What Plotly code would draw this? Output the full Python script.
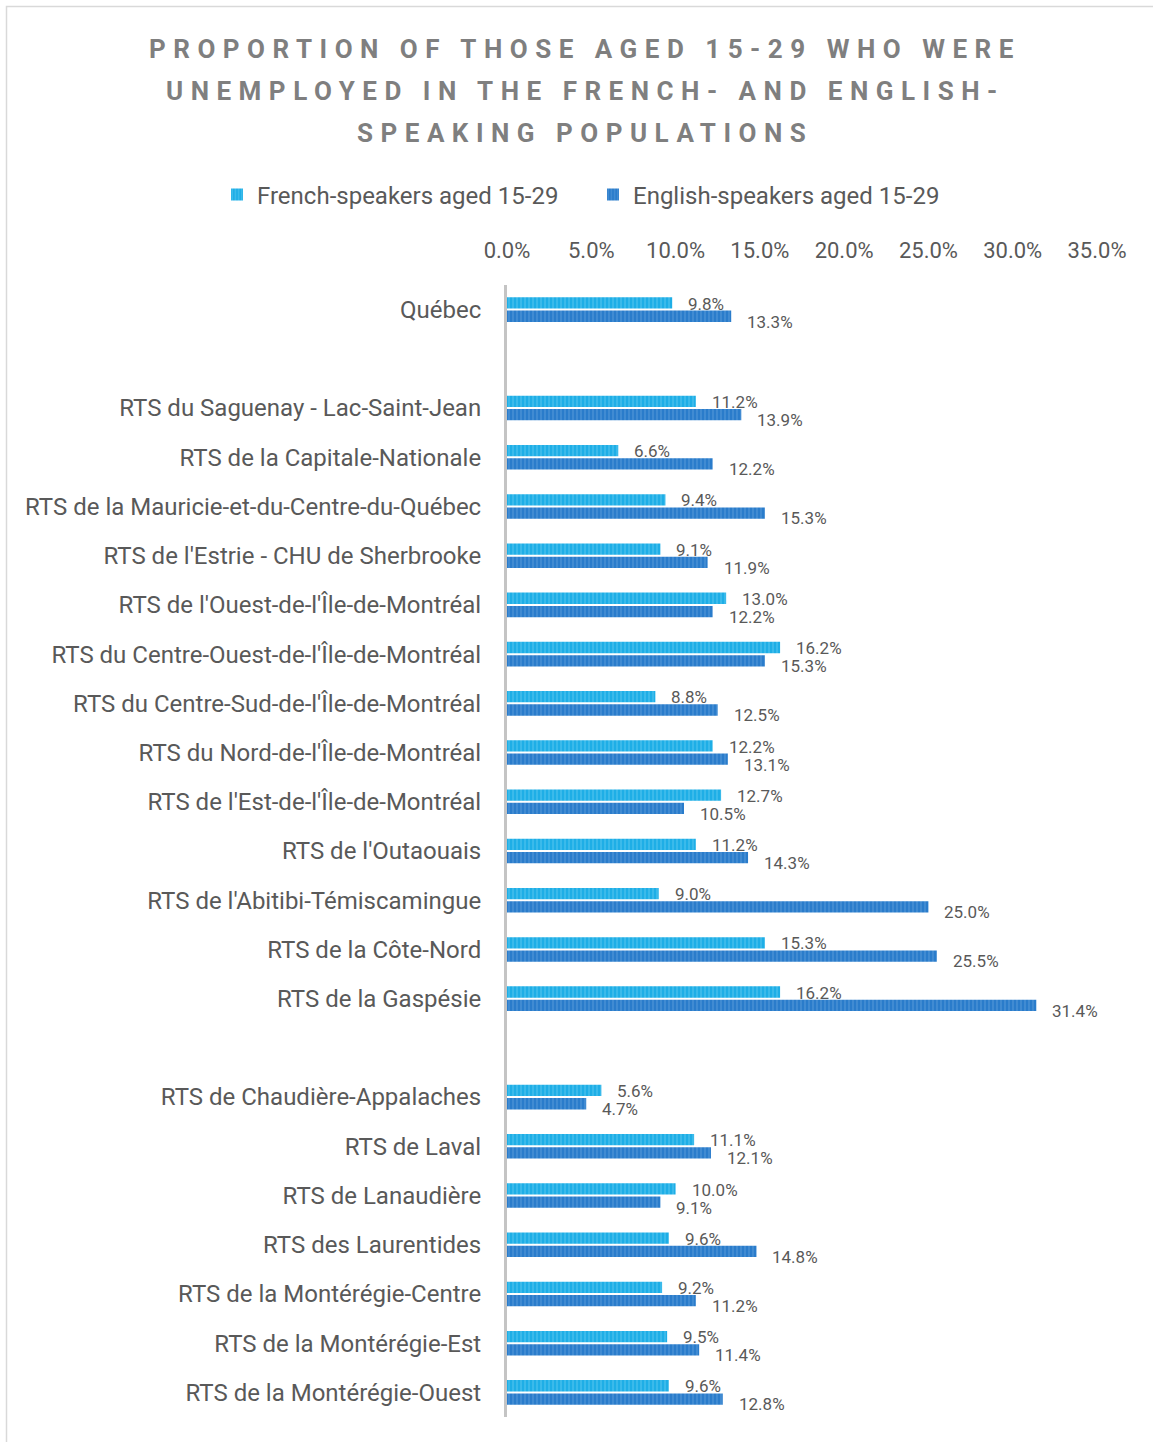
import plotly.graph_objects as go

categories = ["Québec", " ", "RTS du Saguenay - Lac-Saint-Jean", "RTS de la Capitale-Nationale",
              "RTS de la Mauricie-et-du-Centre-du-Québec", "RTS de l'Estrie - CHU de Sherbrooke",
              "RTS de l'Ouest-de-l'Île-de-Montréal", "RTS du Centre-Ouest-de-l'Île-de-Montréal",
              "RTS du Centre-Sud-de-l'Île-de-Montréal", "RTS du Nord-de-l'Île-de-Montréal",
              "RTS de l'Est-de-l'Île-de-Montréal", "RTS de l'Outaouais", "RTS de l'Abitibi-Témiscamingue",
              "RTS de la Côte-Nord", "RTS de la Gaspésie", "  ", "RTS de Chaudière-Appalaches",
              "RTS de Laval", "RTS de Lanaudière", "RTS des Laurentides", "RTS de la Montérégie-Centre",
              "RTS de la Montérégie-Est", "RTS de la Montérégie-Ouest"]
french = [9.8, None, 11.2, 6.6, 9.4, 9.1, 13.0, 16.2, 8.8, 12.2, 12.7, 11.2, 9.0, 15.3, 16.2, None,
          5.6, 11.1, 10.0, 9.6, 9.2, 9.5, 9.6]
english = [13.3, None, 13.9, 12.2, 15.3, 11.9, 12.2, 15.3, 12.5, 13.1, 10.5, 14.3, 25.0, 25.5, 31.4, None,
           4.7, 12.1, 9.1, 14.8, 11.2, 11.4, 12.8]
series_names = ["French-speakers aged 15-29", "English-speakers aged 15-29"]
x_ticks = [0, 5, 10, 15, 20, 25, 30, 35]
x_tick_labels = ["0.0%", "5.0%", "10.0%", "15.0%", "20.0%", "25.0%", "30.0%", "35.0%"]
title_lines = ["PROPORTION OF THOSE AGED 15-29 WHO WERE", "UNEMPLOYED IN THE FRENCH- AND ENGLISH-",
               "SPEAKING POPULATIONS"]

W, H = 1153, 1442
ML, MR, MT, MB = 507, 56, 285, 25
PW, PH = W - ML - MR, H - MT - MB

def px_to_paper_x(px):
    return (px - ML) / PW

def px_to_paper_y(py):
    return (H - MB - py) / PH

FONT = "Roboto"
GRAY = "#595959"

fig = go.Figure()
fig.add_trace(go.Bar(
    y=categories, x=french, orientation="h", name=series_names[0],
    marker=dict(color="#1eaee6", line=dict(width=0),
                pattern=dict(shape="|", fgcolor="#6fd0f3", size=4, solidity=0.35)),
))
fig.add_trace(go.Bar(
    y=categories, x=english, orientation="h", name=series_names[1],
    marker=dict(color="#2a7ccb", line=dict(width=0),
                pattern=dict(shape="|", fgcolor="#6aa6e0", size=4, solidity=0.35)),
))

annotations = []
for vals, ys in ((french, 6), (english, -12)):
    for c, v in zip(categories, vals):
        if v is None:
            continue
        annotations.append(dict(x=v, y=c, xref="x", yref="y", text=f"{v:.1f}%", showarrow=False,
                                xanchor="left", yanchor="middle", xshift=14, yshift=ys,
                                font=dict(family=FONT, size=17, color=GRAY)))

for i, line in enumerate(title_lines):
    annotations.append(dict(x=px_to_paper_x(585), y=px_to_paper_y(49 + 42 * i), xref="paper", yref="paper",
                            text=f"<span style='letter-spacing:7.5px'>{line}</span>", showarrow=False,
                            xanchor="center", yanchor="middle",
                            font=dict(family=FONT, size=26, color="#7f7f7f", weight="bold")))

fig.update_layout(
    width=W, height=H,
    margin=dict(l=ML, r=MR, t=MT, b=MB),
    paper_bgcolor="white", plot_bgcolor="white",
    barmode="group", bargap=0.46, bargroupgap=0.15,
    showlegend=True,
    legend=dict(orientation="h", xref="paper", yref="paper", x=px_to_paper_x(217), y=px_to_paper_y(195),
                xanchor="left", yanchor="middle", font=dict(family=FONT, size=24, color=GRAY),
                itemwidth=30, entrywidth=331, traceorder="normal"),
    annotations=annotations,
    xaxis=dict(side="top", range=[0, 35], tickvals=x_ticks, ticktext=x_tick_labels,
               showgrid=False, zeroline=False, showline=False, ticks="",
               ticklabelstandoff=22, tickfont=dict(family=FONT, size=22, color=GRAY)),
    yaxis=dict(type="category", categoryorder="array", categoryarray=categories, autorange="reversed",
               showgrid=False, zeroline=False, showline=True, linecolor="#c4c4c4", linewidth=3,
               ticks="", ticklabelstandoff=18, tickfont=dict(family=FONT, size=24, color=GRAY)),
    shapes=[dict(type="rect", xref="paper", yref="paper",
                 x0=px_to_paper_x(6.5), x1=px_to_paper_x(1170), y0=px_to_paper_y(1460), y1=px_to_paper_y(6.5),
                 line=dict(color="#d9d9d9", width=1.5), fillcolor="rgba(0,0,0,0)", layer="below")],
)

post = ("document.body.style.margin='0px';"
        "var gd=document.getElementById('{plot_id}');"
        "gd.style.position='absolute';gd.style.left='0px';gd.style.top='0px';")
fig.write_html("out.html", post_script=post, config={"displayModeBar": False})
